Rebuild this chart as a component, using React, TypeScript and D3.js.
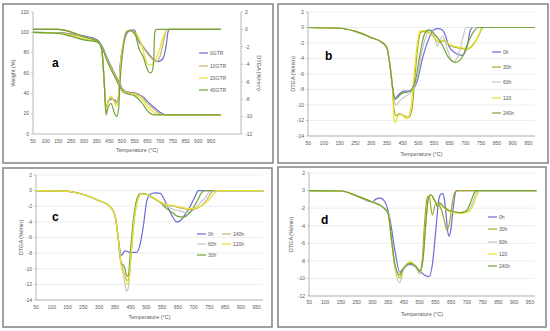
import * as d3 from 'd3'

type Pt = [number, number]
type Series = { name: string; color: string; pts: Pt[] }

const tempLabels = [50, 100, 150, 250, 300, 350, 450, 500, 550, 650, 700, 750, 850, 900, 950]

const BLUE = '#6b6bd4'
const TAN = '#c4b46a'
const YELLOW = '#e6e22e'
const GREEN = '#72a23a'
const GRAY = '#c6c6c6'
const OLIVE = '#aaa826'

// panel a: weight (left axis) and DTGA (right axis)
const aNames = ['0GTR', '10GTR', '20GTR', '40GTR']
const aColors = [BLUE, TAN, YELLOW, GREEN]
const aWeight: Pt[][] = [
  [[50, 100], [150, 99.7], [250, 98.5], [300, 96.5], [350, 93], [376, 90], [403, 84], [429, 76], [466, 62], [492, 49], [500, 45], [510, 42.5], [530, 41], [550, 40.5], [589, 38.5], [616, 36.5], [642, 33], [672, 27], [699, 21.5], [718, 19.2], [731, 18.9], [989, 18.9]],
  [[50, 100], [150, 99.5], [250, 98], [300, 95.5], [350, 92], [376, 89], [403, 83], [429, 75], [466, 61], [492, 48], [500, 44.5], [510, 42], [530, 40.5], [550, 40], [589, 38], [616, 35.5], [642, 31], [672, 25], [699, 20], [712, 19], [725, 18.9], [989, 18.9]],
  [[50, 100], [150, 99.3], [250, 97], [300, 93.5], [350, 91], [376, 88.5], [403, 82.5], [429, 74], [466, 60], [492, 47], [500, 43.5], [510, 41.5], [530, 40], [550, 39], [589, 36], [616, 33], [642, 28], [672, 22], [690, 19.3], [699, 18.9], [989, 18.9]],
  [[50, 100], [150, 99], [250, 96], [300, 92.5], [350, 90.5], [376, 88], [403, 82], [429, 73], [466, 59], [492, 46], [500, 43], [510, 40.5], [530, 39], [550, 37.5], [589, 33], [616, 29], [642, 24], [666, 19.5], [679, 18.9], [989, 18.9]],
]
const aRate: Pt[][] = [
  [[50, 0], [150, 0], [250, -0.3], [300, -0.85], [350, -1.3], [376, -1.6], [392, -2.4], [410, -6], [424, -9.0], [440, -8.3], [457, -8.0], [472, -8.1], [479, -8.3], [487, -7.5], [492, -4.3], [510, -1.2], [523, -0.3], [543, -0.05], [550, -0.1], [576, -1.2], [616, -2.0], [655, -2.8], [672, -3.4], [692, -3.7], [712, -3.3], [725, -1.6], [731, -0.3], [738, 0], [989, 0]],
  [[50, 0], [150, 0], [250, -0.3], [300, -0.85], [350, -1.3], [376, -1.6], [392, -2.4], [410, -6], [424, -9.4], [440, -8.4], [457, -7.8], [479, -8.5], [487, -7.5], [492, -5], [505, -1.8], [517, -0.4], [530, -0.1], [563, -0.8], [600, -1.6], [642, -2.6], [666, -3.3], [685, -3.7], [699, -3.1], [718, -0.8], [725, -0.1], [735, 0], [989, 0]],
  [[50, 0], [150, 0], [250, -0.3], [300, -0.85], [350, -1.3], [376, -1.6], [392, -2.4], [410, -6], [424, -9.2], [440, -8.2], [457, -7.7], [479, -8.8], [487, -7.8], [492, -5], [505, -1.5], [517, -0.3], [530, -0.1], [563, -0.5], [600, -1.6], [642, -3.7], [659, -4.1], [672, -3.9], [692, -2.8], [712, -0.9], [725, -0.1], [735, 0], [989, 0]],
  [[50, 0], [150, 0], [250, -0.3], [300, -0.85], [350, -1.3], [376, -1.6], [392, -2.4], [410, -6], [424, -9.8], [440, -9.0], [457, -8.5], [470, -9.6], [479, -10.0], [487, -9], [492, -6.2], [505, -2], [517, -0.3], [530, -0.1], [550, -0.4], [576, -1.8], [589, -2.4], [616, -3.1], [653, -4.8], [662, -5.0], [670, -4.7], [675, -3.2], [679, -0.3], [685, 0], [989, 0]],
]

// panel b
const bNames = ['0h', '30h', '60h', '120', '240h']
const bColors = [BLUE, OLIVE, GRAY, YELLOW, GREEN]
const bStart: Pt[] = [[50, 0], [150, -0.1], [250, -0.5], [300, -1.3], [334, -1.9], [350, -2.6], [371, -5.1], [386, -7.7]]
const bRate: Pt[][] = [
  [...bStart, [403, -9.1], [424, -8.7], [453, -8.2], [474, -8.2], [496, -7], [512, -4.2], [533, -1.5], [550, -0.3], [575, -0.15], [601, -0.3], [622, -1.0], [644, -2.4], [668, -3.3], [689, -3.6], [705, -2.5], [716, -0.3], [725, 0], [971, 0]],
  [...bStart, [395, -10.5], [410, -11.4], [430, -11.1], [450, -11.3], [470, -11.6], [480, -10.5], [490, -6], [500, -2], [508, -0.6], [520, -0.5], [545, -1.0], [580, -1.9], [612, -1.7], [650, -2.3], [684, -2.7], [705, -2.8], [725, -2.2], [745, -0.8], [757, -0.05], [765, 0], [971, 0]],
  [...bStart, [395, -9.4], [410, -10], [430, -9.5], [455, -9.0], [480, -8.2], [496, -6.5], [512, -3], [528, -0.8], [540, -0.3], [555, -1.3], [570, -2.4], [590, -1.5], [605, -1.1], [630, -2.5], [655, -4.2], [665, -4.4], [680, -3.2], [695, -0.8], [702, 0], [971, 0]],
  [...bStart, [395, -11.8], [405, -12.3], [418, -11.5], [440, -11.2], [462, -11.8], [476, -10.5], [487, -6], [497, -2], [505, -0.5], [515, -0.4], [540, -0.9], [580, -1.8], [612, -1.6], [650, -2.2], [684, -2.6], [705, -2.7], [725, -2.1], [745, -0.7], [755, 0], [971, 0]],
  [...bStart, [400, -9.3], [420, -9.0], [445, -8.5], [470, -8.3], [490, -7], [505, -3.5], [520, -0.8], [532, -0.3], [560, -1.0], [601, -2.2], [640, -3.8], [668, -4.5], [690, -3.8], [710, -1.8], [730, -0.3], [740, 0], [971, 0]],
]

// panel c
const cNames = ['0h', '60h', '30h', '240h', '120h']
const cColors = [BLUE, GRAY, GREEN, TAN, YELLOW]
const cStart: Pt[] = [[50, 0], [150, -0.1], [250, -0.5], [300, -1.3], [334, -2.0], [350, -3.1], [371, -6]]
const cRate: Pt[][] = [
  [...cStart, [392, -8.3], [414, -7.7], [446, -7.9], [469, -7.9], [480, -6.9], [491, -4.4], [501, -1.4], [512, -0.5], [528, -0.3], [544, -0.35], [565, -1.2], [600, -2.7], [621, -3.5], [642, -4.0], [656, -3.9], [672, -3.1], [688, -2.1], [704, -0.8], [715, 0], [971, 0]],
  [...cStart, [392, -9.5], [403, -10.5], [414, -12.0], [424, -12.9], [435, -12.5], [446, -10], [458, -5], [469, -1.5], [480, -0.5], [491, -0.4], [517, -0.9], [544, -1.5], [579, -2.0], [621, -2.4], [656, -2.6], [678, -2.8], [699, -2.5], [720, -1.6], [741, -0.7], [755, 0], [971, 0]],
  [...cStart, [382, -8.5], [392, -9.3], [403, -9.5], [414, -10], [424, -10.8], [435, -11.0], [446, -8.5], [458, -4], [469, -1.2], [480, -0.4], [491, -0.35], [517, -0.8], [544, -1.5], [579, -2.3], [621, -2.9], [650, -3.3], [667, -3.4], [688, -2.8], [709, -1.5], [725, -0.3], [735, 0], [971, 0]],
  [...cStart, [392, -9.5], [414, -10.8], [430, -11.5], [440, -11.2], [452, -8], [462, -3.5], [475, -0.9], [485, -0.4], [500, -0.5], [544, -1.5], [579, -1.9], [621, -2.0], [656, -2.2], [688, -2.4], [709, -2.3], [741, -1.2], [765, -0.2], [780, 0], [971, 0]],
  [...cStart, [392, -9.8], [414, -11], [430, -12.0], [440, -11.5], [452, -8], [462, -3.5], [475, -0.9], [485, -0.4], [500, -0.5], [544, -1.4], [579, -1.8], [621, -1.9], [656, -2.1], [688, -2.3], [709, -2.2], [741, -1.5], [775, -0.5], [805, 0], [971, 0]],
]

// panel d
const dNames = ['0h', '30h', '60h', '120', '240h']
const dColors = [BLUE, OLIVE, GRAY, YELLOW, GREEN]
const dStart: Pt[] = [[50, 0], [150, -0.05], [250, -0.6], [300, -1.3]]
const dRate: Pt[][] = [
  [...dStart, [310, -1.0], [325, -0.85], [340, -1.3], [361, -3.2], [393, -6.8], [424, -9.3], [440, -9.0], [470, -8.4], [490, -8.8], [515, -9.6], [530, -9.8], [540, -8.5], [555, -4], [570, -1.2], [585, -0.4], [595, -0.35], [605, -0.8], [615, -2.2], [625, -4.2], [635, -5.2], [645, -4.8], [655, -2.5], [662, -0.5], [668, 0], [971, 0]],
  [...dStart, [330, -1.8], [350, -2.6], [371, -5.5], [393, -8.5], [424, -9.9], [445, -9.0], [470, -8.2], [490, -8.8], [500, -9.3], [508, -8], [516, -3.5], [524, -0.8], [530, -0.6], [540, -2.8], [552, -1.5], [570, -1.6], [590, -2.3], [605, -3.3], [622, -4.5], [640, -3.6], [652, -1.8], [660, -0.3], [668, 0], [971, 0]],
  [...dStart, [330, -1.8], [350, -2.6], [371, -5.5], [393, -8.8], [424, -10.5], [445, -9.2], [470, -8.3], [490, -8.9], [500, -9.5], [510, -8], [520, -3.5], [528, -0.8], [535, -0.5], [550, -1.3], [562, -1.8], [575, -1.4], [600, -1.8], [640, -2.3], [680, -2.5], [700, -2.4], [715, -1.6], [728, -0.4], [736, 0], [971, 0]],
  [...dStart, [330, -1.8], [350, -2.6], [371, -5.5], [393, -8.6], [424, -10.0], [445, -9.0], [470, -8.1], [490, -8.7], [500, -9.3], [510, -8], [520, -3.5], [528, -0.8], [535, -0.5], [550, -1.2], [562, -1.7], [575, -1.4], [600, -1.9], [640, -2.4], [680, -2.6], [700, -2.5], [718, -1.8], [732, -0.5], [742, 0], [971, 0]],
  [...dStart, [330, -1.8], [350, -2.6], [371, -5.5], [393, -8.4], [424, -9.6], [445, -8.9], [470, -8.3], [490, -8.7], [500, -9.2], [510, -8], [520, -3.5], [528, -0.8], [535, -0.5], [550, -1.3], [562, -1.8], [575, -1.4], [600, -1.8], [640, -2.3], [680, -2.5], [698, -2.3], [712, -1.3], [724, -0.2], [732, 0], [971, 0]],
]

const weightTicks = [0, 20, 40, 60, 80, 100, 120]
const rateTicksA = [-12, -10, -8, -6, -4, -2, 0, 2]
const rateTicksB = [-14, -12, -10, -8, -6, -4, -2, 0, 2]
const rateTicksD = [-12, -10, -8, -6, -4, -2, 0, 2]

const FONT = 'Liberation Sans, Arial, sans-serif'
const TXT = '#595959'

type Layout = {
  frame: [number, number, number, number]
  left: number
  right: number
  top: number
  bottom: number
  x50: number
  x950: number
  grid: boolean
  labelY: number
  titleY: number
  yTitleX: number
  letter: string
  letterX: number
  letterY: number
}

type Legend = { names: string[]; colors: string[]; spots: [number, number][] }

function Panel({ lay, yDom, yTicks, series, legend, yTitle, right }: {
  lay: Layout
  yDom: [number, number]
  yTicks: number[]
  series: Series[]
  legend: Legend
  yTitle: string
  right?: { dom: [number, number]; ticks: number[]; title: string; series: Series[] }
}) {
  const step = (lay.x950 - lay.x50) / (tempLabels.length - 1)
  const x = d3.scaleLinear().domain(tempLabels).range(tempLabels.map((_, i) => lay.x50 + i * step))
  const y = d3.scaleLinear().domain(yDom).range([lay.bottom, lay.top])
  const yR = right ? d3.scaleLinear().domain(right.dom).range([lay.bottom, lay.top]) : y
  const mk = (sc: d3.ScaleLinear<number, number>) =>
    d3.line<Pt>().x(d => x(d[0])).y(d => sc(d[1])).curve(d3.curveMonotoneX)
  const lineL = mk(y)
  const lineR = mk(yR)
  const [fx0, fy0, fx1, fy1] = lay.frame
  const midY = (lay.top + lay.bottom) / 2
  return (
    <g fontFamily={FONT}>
      <rect x={fx0} y={fy0} width={fx1 - fx0} height={fy1 - fy0} fill="#fff" stroke="#8a8a8a" strokeWidth={1.6} />
      {lay.grid && yTicks.map(t => (
        <line key={'g' + t} x1={lay.left} x2={lay.right} y1={y(t)} y2={y(t)} stroke="#e2e2e2" strokeWidth={0.6} />
      ))}
      <line x1={lay.left} x2={lay.left} y1={lay.top} y2={lay.bottom} stroke="#a6a6a6" strokeWidth={0.8} />
      <line x1={lay.left} x2={lay.right} y1={lay.bottom} y2={lay.bottom} stroke="#a6a6a6" strokeWidth={0.8} />
      {right && <line x1={lay.right} x2={lay.right} y1={lay.top} y2={lay.bottom} stroke="#a6a6a6" strokeWidth={0.8} />}
      {yTicks.map(t => (
        <g key={'y' + t}>
          <line x1={lay.left - 2} x2={lay.left} y1={y(t)} y2={y(t)} stroke="#a6a6a6" strokeWidth={0.6} />
          <text x={lay.left - 4} y={y(t) + 1.8} fontSize={5} fill={TXT} textAnchor="end">{t}</text>
        </g>
      ))}
      {right && right.ticks.map(t => (
        <g key={'r' + t}>
          <line x1={lay.right} x2={lay.right + 2} y1={yR(t)} y2={yR(t)} stroke="#a6a6a6" strokeWidth={0.6} />
          <text x={lay.right + 4} y={yR(t) + 1.8} fontSize={5} fill={TXT}>{t}</text>
        </g>
      ))}
      {tempLabels.map(t => (
        <text key={'x' + t} x={x(t)} y={lay.labelY} fontSize={5} fill={TXT} textAnchor="middle">{t}</text>
      ))}
      <text x={(lay.left + lay.right) / 2} y={lay.titleY} fontSize={5.5} fill={TXT} textAnchor="middle">Temperature (°C)</text>
      <text transform={`translate(${lay.yTitleX},${midY}) rotate(-90)`} fontSize={5.5} fill={TXT} textAnchor="middle">{yTitle}</text>
      {right && (
        <text transform={`translate(${lay.right + 16},${midY}) rotate(90)`} fontSize={5.5} fill={TXT} textAnchor="middle">{right.title}</text>
      )}
      {series.map(s => (
        <path key={'l' + s.name} d={lineL(s.pts) ?? undefined} fill="none" stroke={s.color} strokeWidth={1.2} />
      ))}
      {right && right.series.map(s => (
        <path key={'rl' + s.name} d={lineR(s.pts) ?? undefined} fill="none" stroke={s.color} strokeWidth={1.2} />
      ))}
      {legend.names.map((n, i) => {
        const [lx, ly] = legend.spots[i]
        return (
          <g key={'lg' + n}>
            <line x1={lx} x2={lx + 9} y1={ly} y2={ly} stroke={legend.colors[i]} strokeWidth={1.2} />
            <text x={lx + 11} y={ly + 1.8} fontSize={5} fill={TXT}>{n}</text>
          </g>
        )
      })}
      <text x={lay.letterX} y={lay.letterY} fontSize={12} fontWeight={700} fill="#000">{lay.letter}</text>
    </g>
  )
}

const toSeries = (names: string[], colors: string[], data: Pt[][]): Series[] =>
  names.map((n, i) => ({ name: n, color: colors[i], pts: data[i] }))

export default function App() {
  const layA: Layout = { frame: [3, 4, 273, 163], left: 33, right: 241, top: 12, bottom: 134, x50: 33, x950: 211, grid: false, labelY: 143, titleY: 152, yTitleX: 15, letter: 'a', letterX: 52, letterY: 67 }
  const layB: Layout = { frame: [278, 4, 548, 163], left: 308, right: 535, top: 12, bottom: 136, x50: 308.3, x950: 528.3, grid: true, labelY: 145, titleY: 156, yTitleX: 295, letter: 'b', letterX: 325, letterY: 60 }
  const layC: Layout = { frame: [3, 168, 272, 327], left: 36, right: 263, top: 175, bottom: 300, x50: 36, x950: 256.7, grid: true, labelY: 309, titleY: 319, yTitleX: 23, letter: 'c', letterX: 52, letterY: 221 }
  const layD: Layout = { frame: [278, 167, 546, 327], left: 309, right: 535, top: 173, bottom: 296, x50: 309.3, x950: 530, grid: true, labelY: 304, titleY: 316, yTitleX: 293, letter: 'd', letterX: 321, letterY: 224 }

  const rowsA: [number, number][] = [[199, 53], [199, 66], [199, 78], [199, 90]]
  const rowsB: [number, number][] = [[492, 52], [492, 67], [492, 82], [492, 98], [492, 113]]
  const rowsC: [number, number][] = [[197, 234], [197, 244], [197, 255], [222, 234], [222, 244]]
  const rowsD: [number, number][] = [[488, 217], [488, 229], [488, 242], [488, 254], [488, 266]]

  return (
    <svg width={550} height={331} style={{ position: 'absolute', left: 0, top: 0, background: '#fff' }}>
      <rect width={550} height={331} fill="#fff" />
      <Panel
        lay={layA}
        yDom={[0, 120]}
        yTicks={weightTicks}
        series={toSeries(aNames, aColors, aWeight)}
        legend={{ names: aNames, colors: aColors, spots: rowsA }}
        yTitle="Weight (%)"
        right={{ dom: [-12, 2], ticks: rateTicksA, title: 'DTGA (%/min)', series: toSeries(aNames, aColors, aRate) }}
      />
      <Panel lay={layB} yDom={[-14, 2]} yTicks={rateTicksB} series={toSeries(bNames, bColors, bRate)}
        legend={{ names: bNames, colors: bColors, spots: rowsB }} yTitle="DTGA (%/min)" />
      <Panel lay={layC} yDom={[-14, 2]} yTicks={rateTicksB} series={toSeries(cNames, cColors, cRate)}
        legend={{ names: cNames, colors: cColors, spots: rowsC }} yTitle="DTGA (%/min)" />
      <Panel lay={layD} yDom={[-12, 2]} yTicks={rateTicksD} series={toSeries(dNames, dColors, dRate)}
        legend={{ names: dNames, colors: dColors, spots: rowsD }} yTitle="DTGA (%/min)" />
    </svg>
  )
}
